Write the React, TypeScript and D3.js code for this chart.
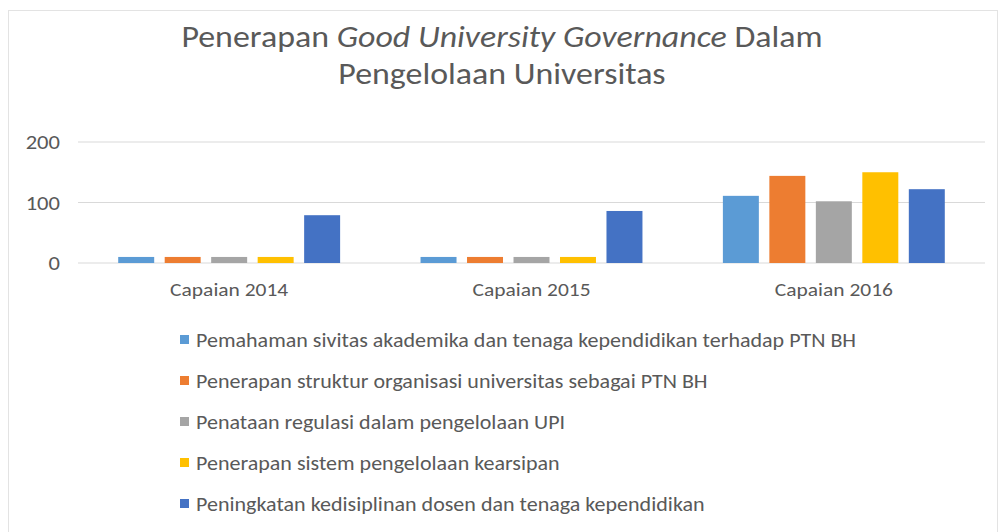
import * as d3 from "d3";

const W = 1001;
const H = 532;
const MARGIN = { top: 142, right: 16, bottom: 269, left: 78 };

const categories = ["Capaian 2014", "Capaian 2015", "Capaian 2016"];
const seriesNames = [
  "Pemahaman sivitas akademika dan tenaga kependidikan terhadap PTN BH",
  "Penerapan struktur organisasi universitas sebagai PTN BH",
  "Penataan regulasi dalam pengelolaan UPI",
  "Penerapan sistem pengelolaan kearsipan",
  "Peningkatan kedisiplinan dosen dan tenaga kependidikan",
];
const seriesColors = ["#5b9bd5", "#ed7d31", "#a5a5a5", "#ffc000", "#4472c4"];
// values per series, one per category
const seriesValues = [
  [10, 10, 111],
  [10, 10, 144],
  [10, 10, 102],
  [10, 10, 150],
  [79, 86, 122],
];
const yTicks = [0, 100, 200];

const FONT = "Carlito, 'Liberation Sans Narrow', 'Open Sans', sans-serif";
const TEXT = "#595959";
const SX = 1.13; // the source picture is a bit stretched sideways

const App = () => {
  const boundsWidth = W - MARGIN.left - MARGIN.right;
  const boundsHeight = H - MARGIN.top - MARGIN.bottom;

  const yScale = d3.scaleLinear().domain([0, 200]).range([boundsHeight, 0]);
  const x0 = d3.scaleBand().domain(categories).range([0, boundsWidth]).padding(0);
  const groupInset = x0.bandwidth() * 0.133;
  const x1 = d3
    .scaleBand()
    .domain(seriesNames)
    .range([groupInset, x0.bandwidth() - groupInset])
    .paddingInner(0.226)
    .paddingOuter(0);

  const legendY = d3.scalePoint().domain(seriesNames).range([340, 504]);

  return (
    <svg
      width={W}
      height={H}
      style={{ position: "absolute", left: 0, top: 0, background: "#fff" }}
      fontFamily={FONT}
    >
      <rect x={8.5} y={10.5} width={W - 12} height={H} fill="#fff" stroke="#e3e3e3" />
      <g transform={`translate(502,47) scale(${SX},1)`}>
        <text textAnchor="middle" fontSize={30} fill={TEXT}>
          Penerapan <tspan fontStyle="italic">Good University Governance</tspan> Dalam
        </text>
      </g>
      <g transform={`translate(502,84) scale(${SX},1)`}>
        <text textAnchor="middle" fontSize={30} fill={TEXT}>
          Pengelolaan Universitas
        </text>
      </g>
      <g transform={`translate(${MARGIN.left},${MARGIN.top})`}>
        {yTicks.map((t) => (
          <g key={t}>
            <line
              x1={0}
              x2={boundsWidth}
              y1={yScale(t)}
              y2={yScale(t)}
              stroke="#d9d9d9"
              strokeWidth={1}
            />
            <g transform={`translate(-18,${yScale(t)}) scale(${SX},1)`}>
              <text dy="0.35em" textAnchor="end" fontSize={20} fill={TEXT}>
                {t}
              </text>
            </g>
          </g>
        ))}
        {categories.map((c, ci) => (
          <g key={c} transform={`translate(${x0(c)},0)`}>
            {seriesNames.map((s, si) => {
              const v = seriesValues[si][ci];
              return (
                <rect
                  key={s}
                  x={x1(s)}
                  y={yScale(v)}
                  width={x1.bandwidth()}
                  height={yScale(0) - yScale(v)}
                  fill={seriesColors[si]}
                />
              );
            })}
            <g transform={`translate(${x0.bandwidth() / 2},${boundsHeight + 33}) scale(${SX},1)`}>
              <text textAnchor="middle" fontSize={19} fill={TEXT}>
                {c}
              </text>
            </g>
          </g>
        ))}
      </g>
      {seriesNames.map((s, si) => (
        <g key={s} transform={`translate(180,${legendY(s)})`}>
          <rect x={0} y={-5} width={9} height={9} fill={seriesColors[si]} />
          <g transform={`translate(16,0) scale(${SX},1)`}>
            <text dy="0.35em" fontSize={19.5} fill={TEXT}>
              {s}
            </text>
          </g>
        </g>
      ))}
    </svg>
  );
};

export default App;
